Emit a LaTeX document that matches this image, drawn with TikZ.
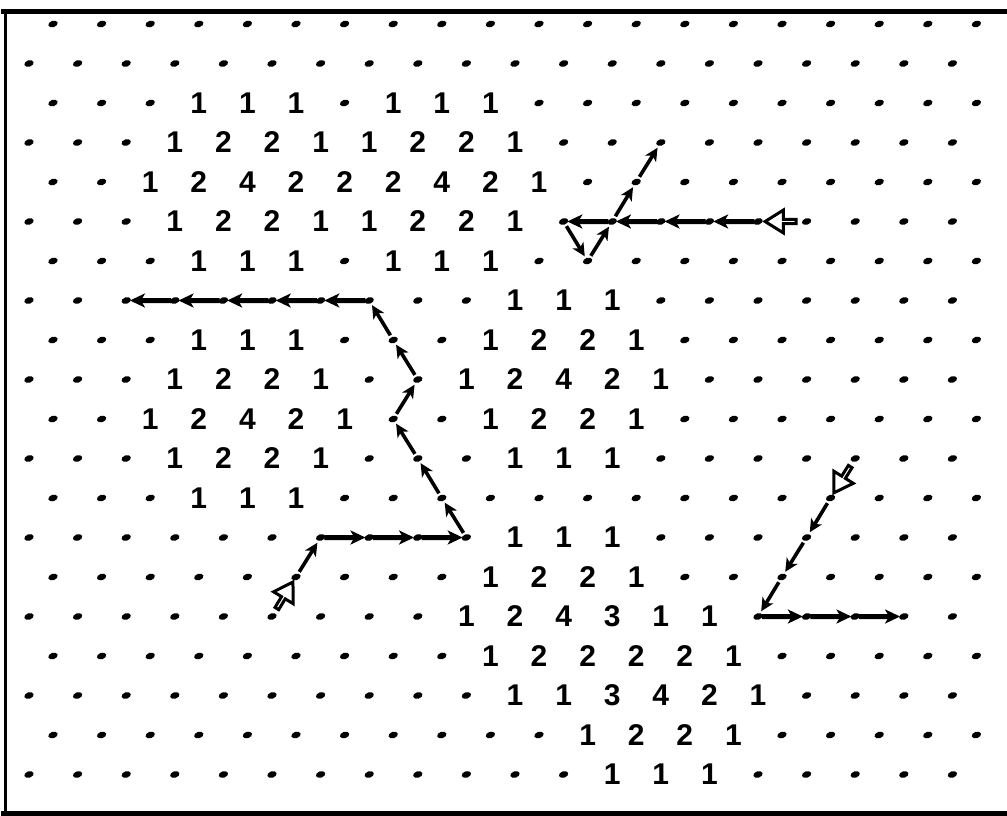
\documentclass[tikz,border=0pt]{standalone}
\usepackage{fontspec}
\setmainfont{Liberation Sans}
\usetikzlibrary{arrows.meta,shapes.arrows,shapes.geometric,calc}
\tikzset{
  gpt/.style={ellipse,fill=black,inner sep=0pt,minimum width=9.6pt,minimum height=6.4pt,rotate=18},
  num/.style={inner sep=0pt,font=\fontsize{30}{30}\selectfont\bfseries},
  hstep/.style={line width=5pt,shorten >=-1pt,shorten <=-1pt,-{Stealth[length=15pt,width=14pt,inset=4pt]}},
  dstep/.style={line width=3.6pt,shorten >=2pt,shorten <=2pt,-{Stealth[length=13pt,width=12.5pt,inset=3.5pt]}},
  startarrow/.style={single arrow,draw=black,fill=white,line width=3pt,
    minimum height=31pt,minimum width=23pt,single arrow head extend=6.5pt,
    single arrow tip angle=64,inner sep=0pt,sloped,allow upside down},
  framerule/.style={line width=#1,line cap=rect}
}
\newcommand\hexrow[3]{%
  \foreach \v [count=\kk from 0] in {#3} {%
    \ifnum\v=0
      \node[gpt] (r#1c\kk) at ({#2+48.6*\kk},{24+39.5*#1}) {};
    \else
      \node[num] (r#1c\kk) at ({#2+48.6*\kk},{24+39.5*#1}) {\v};
    \fi
  }%
}
\begin{document}
\begin{tikzpicture}[x=1pt,y=-1pt]
\useasboundingbox (0,0) rectangle (1007,816);
% frame (open on the right)
\draw[framerule=5.5pt] (4,11.5) -- (1007,11.5);
\draw[framerule=5.5pt] (4,813.5) -- (1007,813.5);
\draw[framerule=3pt] (5,11.5) -- (5,813.5);
% lattice
\hexrow{0}{53}{0,0,0,0,0,0,0,0,0,0,0,0,0,0,0,0,0,0,0,0}
\hexrow{1}{29}{0,0,0,0,0,0,0,0,0,0,0,0,0,0,0,0,0,0,0,0}
\hexrow{2}{53}{0,0,0,1,1,1,0,1,1,1,0,0,0,0,0,0,0,0,0,0}
\hexrow{3}{29}{0,0,0,1,2,2,1,1,2,2,1,0,0,0,0,0,0,0,0,0}
\hexrow{4}{53}{0,0,1,2,4,2,2,2,4,2,1,0,0,0,0,0,0,0,0,0}
\hexrow{5}{29}{0,0,0,1,2,2,1,1,2,2,1,0,0,0,0,0,0,0,0,0}
\hexrow{6}{53}{0,0,0,1,1,1,0,1,1,1,0,0,0,0,0,0,0,0,0,0}
\hexrow{7}{29}{0,0,0,0,0,0,0,0,0,0,1,1,1,0,0,0,0,0,0,0}
\hexrow{8}{53}{0,0,0,1,1,1,0,0,0,1,2,2,1,0,0,0,0,0,0,0}
\hexrow{9}{29}{0,0,0,1,2,2,1,0,0,1,2,4,2,1,0,0,0,0,0,0}
\hexrow{10}{53}{0,0,1,2,4,2,1,0,0,1,2,2,1,0,0,0,0,0,0,0}
\hexrow{11}{29}{0,0,0,1,2,2,1,0,0,0,1,1,1,0,0,0,0,0,0,0}
\hexrow{12}{53}{0,0,0,1,1,1,0,0,0,0,0,0,0,0,0,0,0,0,0,0}
\hexrow{13}{29}{0,0,0,0,0,0,0,0,0,0,1,1,1,0,0,0,0,0,0,0}
\hexrow{14}{53}{0,0,0,0,0,0,0,0,0,1,2,2,1,0,0,0,0,0,0,0}
\hexrow{15}{29}{0,0,0,0,0,0,0,0,0,1,2,4,3,1,1,0,0,0,0,0}
\hexrow{16}{53}{0,0,0,0,0,0,0,0,0,1,2,2,2,2,1,0,0,0,0,0}
\hexrow{17}{29}{0,0,0,0,0,0,0,0,0,0,1,1,3,4,2,1,0,0,0,0}
\hexrow{18}{53}{0,0,0,0,0,0,0,0,0,0,0,1,2,2,1,0,0,0,0,0}
\hexrow{19}{29}{0,0,0,0,0,0,0,0,0,0,0,0,1,1,1,0,0,0,0,0}
% walk A (top right)
\path (r5c16) -- node[startarrow,pos=0.5] (sA) {} (r5c15);
\foreach \a/\b in {r5c15/r5c14,r5c14/r5c13,r5c13/r5c12,r5c12/r5c11}
  \draw[hstep] (\a) -- (\b);
\foreach \a/\b in {r5c11/r6c11,r6c11/r5c12,r5c12/r4c12,r4c12/r3c13}
  \draw[dstep] (\a) -- (\b);
% walk B (left)
\path (r15c5) -- node[startarrow,pos=0.5] (sB) {} (r14c5);
\draw[dstep] (r14c5) -- (r13c6);
\foreach \a/\b in {r13c6/r13c7,r13c7/r13c8,r13c8/r13c9}
  \draw[hstep] (\a) -- (\b);
\foreach \a/\b in {r13c9/r12c8,r12c8/r11c8,r11c8/r10c7,r10c7/r9c8,r9c8/r8c7,r8c7/r7c7}
  \draw[dstep] (\a) -- (\b);
\foreach \a/\b in {r7c7/r7c6,r7c6/r7c5,r7c5/r7c4,r7c4/r7c3,r7c3/r7c2}
  \draw[hstep] (\a) -- (\b);
% walk C (bottom right)
\path (r11c17) -- node[startarrow,pos=0.5] (sC) {} (r12c16);
\foreach \a/\b in {r12c16/r13c16,r13c16/r14c15,r14c15/r15c15}
  \draw[dstep] (\a) -- (\b);
\foreach \a/\b in {r15c15/r15c16,r15c16/r15c17,r15c17/r15c18}
  \draw[hstep] (\a) -- (\b);
\end{tikzpicture}
\end{document}
